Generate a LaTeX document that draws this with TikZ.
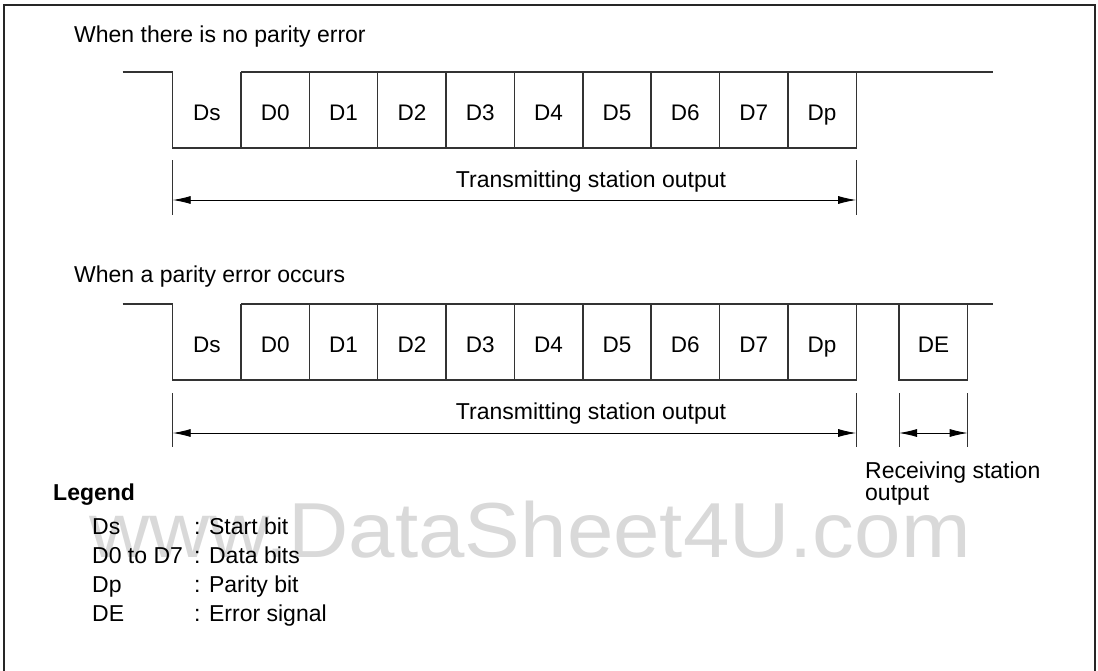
\documentclass[tikz,border=0pt]{standalone}
\usepackage{fontspec}
\setmainfont{Liberation Sans}
\newfontfamily\wmfont[FakeStretch=1.07]{Liberation Sans}
\usetikzlibrary{arrows.meta}
\definecolor{wave}{HTML}{333333}
\definecolor{wm}{HTML}{D9D9D9}
\tikzset{
  wavel/.style={draw=wave,line width=1.4pt},
  tick/.style={draw=wave,line width=0.9pt},
  dimarr/.style={draw=black,line width=0.9pt,{Latex[length=18pt,width=8pt]}-{Latex[length=18pt,width=8pt]}},
  txt/.style={inner sep=0pt,font=\fontsize{23}{27}\selectfont},
  lbl/.style={txt,anchor=base},
  cell/.style={inner sep=0pt,anchor=base,font=\fontsize{22.5}{27}\selectfont},
  lft/.style={txt,anchor=base west},
}
\begin{document}
\begin{tikzpicture}[x=1pt,y=-1pt]
\useasboundingbox (0,0) rectangle (1098,670);
% frame
\draw[draw=black!85,line width=1.6pt] (4,680) -- (4,5) -- (1095,5) -- (1095,680);
% watermark
\node[inner sep=0pt,anchor=base,text=wm,font=\wmfont\fontsize{78}{86}\selectfont] (wmark) at (530,557) {www.DataSheet4U.com};

% titles
\node[lft] (t1) at (74,42) {When there is no parity error};
\node[lft] (t2) at (74,282) {When a parity error occurs};

% waveform 1
\def\xz{172.7}\def\w{68.35}
\draw[wavel] (122.7,72) -- (172.7,72) -- (172.7,148) -- (856.2,148) -- (856.2,72);
\draw[wavel] (241.05,72) -- (992.7,72);
\foreach \k in {1,...,9} \draw[wavel] ({\xz+\k*\w},72) -- ({\xz+\k*\w},148);
\foreach \k/\t in {0/Ds,1/D0,2/D1,3/D2,4/D3,5/D4,6/D5,7/D6,8/D7,9/Dp}
  \node[cell] (a\k) at ({\xz+(\k+0.5)*\w},120.5) {\t};

% dimension 1
\coordinate (p1t) at (172.7,160); \coordinate (p1b) at (172.7,215);
\coordinate (q1t) at (856.2,160); \coordinate (q1b) at (856.2,215);
\draw[tick] (p1t) -- (p1b); \draw[tick] (q1t) -- (q1b);
\coordinate (p1) at (172.7,200); \coordinate (q1) at (856.2,200);
\draw[dimarr] (p1) -- (q1);
\node[lbl] (tso1) at (591,187) {Transmitting station output};

% waveform 2
\draw[wavel] (122.7,304) -- (172.7,304) -- (172.7,380) -- (856.2,380) -- (856.2,304);
\draw[wavel] (241.05,304) -- (992.7,304);
\foreach \k in {1,...,9} \draw[wavel] ({\xz+\k*\w},304) -- ({\xz+\k*\w},380);
\draw[wavel] (899,304) -- (899,380) -- (967.7,380) -- (967.7,304);
\foreach \k/\t in {0/Ds,1/D0,2/D1,3/D2,4/D3,5/D4,6/D5,7/D6,8/D7,9/Dp}
  \node[cell] (b\k) at ({\xz+(\k+0.5)*\w},352) {\t};
\node[cell] (bde) at (933.4,352) {DE};

% dimension 2
\foreach \x/\n in {172.7/p2,856.2/q2,899/r2,967.7/s2} {
  \coordinate (\n t) at (\x,393); \coordinate (\n b) at (\x,447);
  \draw[tick] (\n t) -- (\n b);
  \coordinate (\n) at (\x,433);
}
\draw[dimarr] (p2) -- (q2);
\draw[dimarr] (r2) -- (s2);
\node[lbl] (tso2) at (591,419) {Transmitting station output};
\node[lft] (rso1) at (865,478) {Receiving station};
\node[lft] (rso2) at (865,500) {output};

% legend
\node[lft,font=\fontsize{23}{27}\selectfont\bfseries] (leg) at (53,500.5) {Legend};
\foreach \y/\a/\b [count=\i] in {534/Ds/Start bit,563/D0 to D7/Data bits,592/Dp/Parity bit,621/DE/Error signal} {
  \node[lft] (lk\i) at (92,\y) {\a};
  \node[lft] (lv\i) at (194,\y) {: \b};
}
\end{tikzpicture}
\end{document}
